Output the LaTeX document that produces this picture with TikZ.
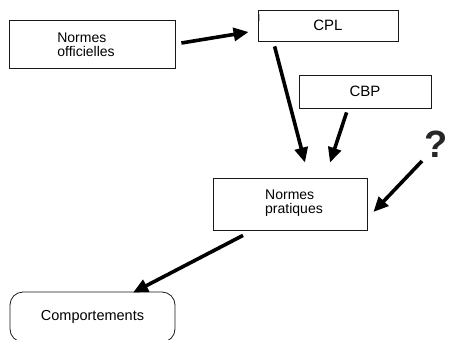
\documentclass[tikz,border=0pt]{standalone}
\usepackage{fontspec}
\setmainfont{Liberation Sans}
\usetikzlibrary{arrows.meta,calc}
\begin{document}
\begin{tikzpicture}[x=1pt,y=-1pt,
  box/.style={draw=black!90, line width=0.8pt, fill=white, inner sep=0pt, align=left,
    font=\fontsize{14}{14.5}\selectfont},
  conn/.style={line width=3.6pt, -{Triangle[length=15pt,width=13pt]}, black}]
\useasboundingbox (0,0) rectangle (450,340);
\clip (0,0) rectangle (450,340);
\node[box, minimum width=166pt, minimum height=48pt] (no) at (92,44.5) {};
\node[inner sep=0pt, align=left, font=\fontsize{14}{14.5}\selectfont] (not) at (86,45) {Normes\\officielles};
\node[box, minimum width=140pt, minimum height=31pt, font=\fontsize{15}{16}\selectfont] (cpl) at (328,25.5) {CPL};
\node[box, minimum width=132pt, minimum height=33pt, font=\fontsize{15}{16}\selectfont] (cbp) at (365,91.5) {CBP};
\node[box, minimum width=154pt, minimum height=52pt] (np) at (290,204) {};
\node[inner sep=0pt, align=left, font=\fontsize{14}{14.5}\selectfont] (npt) at (294,203) {Normes\\pratiques};
\node[box, rounded corners=13pt, minimum width=165pt, minimum height=50pt, font=\fontsize{14.5}{16}\selectfont] (comp) at (92.5,317) {Comportements};
\node[inner sep=0pt, font=\fontsize{38}{40}\selectfont\bfseries, text=black!85] (q) at (436,144) {?};
\draw[gray!60, line width=0.8pt] ($(cpl.north west)+(2,4)$) -- ($(cpl.north west)+(2,11)$);
\draw[conn] ($(no.east)+(6,-1.5)$) -- ($(cpl.west)+(-9,6.5)$);
\draw[conn] ($(cpl.south west)+(17,5)$) -- ($(np.north)+(15,-15)$);
\draw[conn] ($(cbp.south west)+(48,4)$) -- ($(np.north)+(40,-15)$);
\draw[conn] ($(q.center)+(-14,17)$) -- ($(np.east)+(6,8)$);
\draw[conn] ($(np.south)+(-47,5)$) -- ($(comp.north)+(40.5,1)$);
\end{tikzpicture}
\end{document}
